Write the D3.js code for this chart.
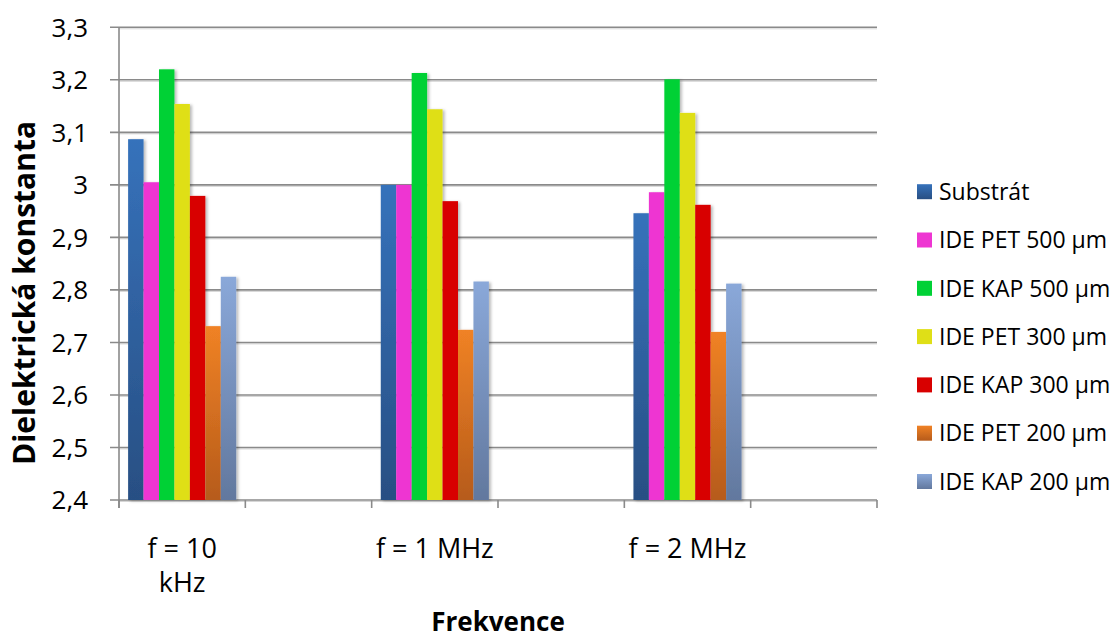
<!DOCTYPE html>
<html>
<head>
<meta charset="utf-8">
<script src="https://cdn.jsdelivr.net/npm/d3@7"></script>
<style>
  body { margin: 0; background: #fff; }
  svg { display: block; }
  text { font-family: "Open Sans", sans-serif; fill: #000; }
</style>
</head>
<body>
<svg id="chart" width="1114" height="639"></svg>
<script>
// Category slots along the x axis (every other slot is left empty)
const categories = ["f = 10\nkHz", "", "f = 1 MHz", "", "f = 2 MHz", ""];

// Dielectric constant per frequency, one array per electrode variant
const substrat = [3.087, null, 3.000, null, 2.946, null];
const idePet500 = [3.005, null, 3.000, null, 2.986, null];
const ideKap500 = [3.220, null, 3.213, null, 3.201, null];
const idePet300 = [3.154, null, 3.144, null, 3.137, null];
const ideKap300 = [2.979, null, 2.969, null, 2.962, null];
const idePet200 = [2.731, null, 2.724, null, 2.720, null];
const ideKap200 = [2.825, null, 2.816, null, 2.812, null];

const seriesNames = ["Substrát", "IDE PET 500 µm", "IDE KAP 500 µm", "IDE PET 300 µm",
                     "IDE KAP 300 µm", "IDE PET 200 µm", "IDE KAP 200 µm"];
const seriesValues = [substrat, idePet500, ideKap500, idePet300, ideKap300, idePet200, ideKap200];

// Value axis ticks
const yTicks = [2.4, 2.5, 2.6, 2.7, 2.8, 2.9, 3.0, 3.1, 3.2, 3.3];

const yTitle = "Dielektrická konstanta";
const xTitle = "Frekvence";

// Fill colours: [top, bottom] of each bar's vertical gradient
const seriesColors = [
  ["#3672bb", "#284f83"],
  ["#ee36d2", "#ee36d2"],
  ["#00d136", "#00d136"],
  ["#dfdf17", "#dfdf17"],
  ["#d80000", "#d80000"],
  ["#f08225", "#b65b1b"],
  ["#8aa8d9", "#62789e"]
];

const svg = d3.select("#chart");
const plotL = 119, plotR = 877, plotT = 27.3, plotB = 500;

const y = d3.scaleLinear().domain([2.4, 3.3]).range([plotB, plotT]);
const x0 = d3.scaleBand().domain(d3.range(categories.length)).range([plotL, plotR]).padding(0);
const x1 = d3.scaleBand().domain(d3.range(seriesNames.length))
  .range([0, x0.bandwidth()]).paddingInner(0).paddingOuter(0.59);

const locale = d3.formatLocale({ decimal: ",", thousands: " ", grouping: [3], currency: ["", ""] });
const fmt = locale.format(".1~f");

const defs = svg.append("defs");
seriesColors.forEach((c, i) => {
  const g = defs.append("linearGradient").attr("id", "grad" + i)
    .attr("x1", 0).attr("y1", 0).attr("x2", 0).attr("y2", 1);
  g.append("stop").attr("offset", "0%").attr("stop-color", c[0]);
  g.append("stop").attr("offset", "100%").attr("stop-color", c[1]);
});
const shadow = defs.append("filter").attr("id", "shadow")
  .attr("x", "-30%").attr("y", "-5%").attr("width", "160%").attr("height", "110%");
shadow.append("feDropShadow").attr("dx", 2).attr("dy", 1).attr("stdDeviation", 1.6)
  .attr("flood-color", "#000").attr("flood-opacity", 0.28);

// Horizontal gridlines with a faint shadow below each
const grid = svg.append("g");
grid.selectAll("line.sh").data(yTicks).join("line")
  .attr("x1", plotL).attr("x2", plotR)
  .attr("y1", d => y(d) + 1.5).attr("y2", d => y(d) + 1.5)
  .attr("stroke", "#d6d6d6").attr("stroke-width", 1);
grid.selectAll("line.gl").data(yTicks).join("line")
  .attr("x1", plotL - 9).attr("x2", plotR)
  .attr("y1", d => y(d)).attr("y2", d => y(d))
  .attr("stroke", "#8a8a8a").attr("stroke-width", 1.6);

// Y axis line
svg.append("line").attr("x1", plotL).attr("x2", plotL).attr("y1", plotT).attr("y2", plotB + 8)
  .attr("stroke", "#8a8a8a").attr("stroke-width", 1.6);

// X axis category boundary ticks
const xTickPos = d3.range(categories.length).map(i => x0(i)).concat([plotR]);
svg.append("g").selectAll("line").data(xTickPos).join("line")
  .attr("x1", d => d).attr("x2", d => d).attr("y1", plotB).attr("y2", plotB + 8)
  .attr("stroke", "#8a8a8a").attr("stroke-width", 1.6);

// Y tick labels
svg.append("g").selectAll("text").data(yTicks).join("text")
  .attr("x", 88).attr("y", d => y(d)).attr("dy", "0.36em")
  .attr("text-anchor", "end").attr("font-size", 26)
  .text(d => fmt(d));

// Bars
const bars = svg.append("g").attr("filter", "url(#shadow)");
seriesValues.forEach((vals, s) => {
  bars.selectAll(null).data(vals.map((v, i) => ({ v, i })).filter(d => d.v != null)).join("rect")
    .attr("x", d => x0(d.i) + x1(s))
    .attr("width", x1.bandwidth())
    .attr("y", d => y(d.v))
    .attr("height", d => y(2.4) - y(d.v))
    .attr("fill", `url(#grad${s})`);
});

// Category labels (multi-line where the label contains a break)
const xl = svg.append("g");
categories.forEach((c, i) => {
  if (!c) return;
  const cx = x0(i) + x0.bandwidth() / 2;
  const t = xl.append("text").attr("text-anchor", "middle").attr("font-size", 27)
    .attr("x", cx).attr("y", 558);
  c.split("\n").forEach((line, k) => {
    t.append("tspan").attr("x", cx).attr("dy", k === 0 ? 0 : 34).text(line);
  });
});

// Axis titles
svg.append("text").attr("font-size", 30).attr("font-weight", "bold").attr("text-anchor", "middle")
  .attr("transform", `translate(35,293) rotate(-90)`)
  .text(yTitle);
svg.append("text").attr("font-size", 26).attr("font-weight", "bold").attr("text-anchor", "middle")
  .attr("x", (plotL + plotR) / 2).attr("y", 631).text(xTitle);

// Legend
const legend = svg.append("g");
seriesNames.forEach((name, i) => {
  const cy = 191.7 + i * 48.3;
  legend.append("rect").attr("x", 917).attr("y", cy - 7.5).attr("width", 15).attr("height", 15)
    .attr("fill", `url(#grad${i})`);
  legend.append("text").attr("x", 939).attr("y", cy).attr("dy", "0.36em")
    .attr("font-size", 23).text(name);
});
</script>
</body>
</html>
